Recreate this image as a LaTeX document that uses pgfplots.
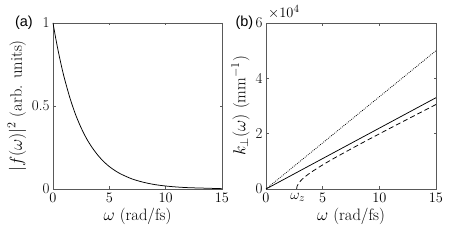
\documentclass[border=0pt]{standalone}
\usepackage{pgfplots}
\pgfplotsset{compat=1.18}
\usepackage{fontspec}
\newfontfamily\helv{Liberation Sans}
\begin{document}
\begin{tikzpicture}
\path[use as bounding box] (0pt,0pt) rectangle (458pt,240pt);
\pgfplotsset{
  myax/.style={
    anchor=south west, scale only axis,
    width=169pt, height=166pt,
    axis line style={black!65, line width=0.5pt},
    every tick/.style={black!65, line width=0.5pt},
    tick align=inside, major tick length=2.5pt,
    xmin=0, xmax=15, xtick={0,5,10,15},
    tick label style={font=\fontsize{15}{17}\selectfont},
    xticklabel style={yshift=-1pt},
    label style={font=\fontsize{16.5}{18}\selectfont},
    xlabel={$\omega$ (rad/fs)},
    xlabel style={yshift=2pt},
    ylabel style={yshift=-1pt},
    clip=false,
  }
}
\begin{axis}[myax, at={(53pt,51pt)},
  ymin=0, ymax=1, ytick={0,0.5,1}, yticklabels={0,0.5,1},
  ylabel={$|f(\omega)|^2$ (arb. units)}]
\addplot[black, line width=0.75pt, smooth] coordinates {
(0,1) (0.25,0.905) (0.5,0.819) (0.75,0.741) (1,0.670) (1.5,0.549) (2,0.449) (2.5,0.368) (3,0.301) (3.5,0.247) (4,0.202) (4.5,0.165) (5,0.135) (5.5,0.111) (6,0.091) (7,0.061) (8,0.041) (9,0.027) (10,0.018) (11,0.012) (12,0.008) (13,0.006) (14,0.004) (15,0.002)};
\node[font=\helv\fontsize{14.5}{16}\selectfont, anchor=east, inner sep=0pt] at (rel axis cs:0,1) [xshift=-20pt] {(a)};
\end{axis}
\begin{axis}[myax, at={(266pt,51pt)}, width=170pt,
  ymin=0, ymax=60000, ytick={0,20000,40000,60000}, yticklabels={0,2,4,6},
  scaled y ticks=false,
  ylabel={$k_\perp(\omega)$ (mm$^{-1}$)}]
\addplot[black, line width=0.75pt, dash pattern=on 0.8pt off 1.2pt] coordinates {(0,0) (15,50000)};
\addplot[black, line width=0.75pt] coordinates {(0,0) (15,33000)};
\addplot[black, line width=0.75pt, dash pattern=on 5pt off 3pt, smooth] coordinates {
(2.7,0) (2.75,1080) (2.9,2190) (3.2,3556) (3.5,4610) (4,6109) (5,8711) (6,11091) (8,15589) (10,19932) (12,24203) (15,30543)};
\node[font=\helv\fontsize{14.5}{16}\selectfont, anchor=east, inner sep=0pt] at (rel axis cs:0,1) [xshift=-12.5pt] {(b)};
\node[font=\fontsize{15}{17}\selectfont, anchor=south west, inner sep=0pt] at (rel axis cs:0,1) [xshift=2pt, yshift=4pt] {$\times10^4$};
\node[font=\fontsize{15}{17}\selectfont, anchor=north, inner sep=0pt] at (axis cs:2.8,0) [yshift=-4pt] {$\omega_z$};
\end{axis}
\end{tikzpicture}
\end{document}
